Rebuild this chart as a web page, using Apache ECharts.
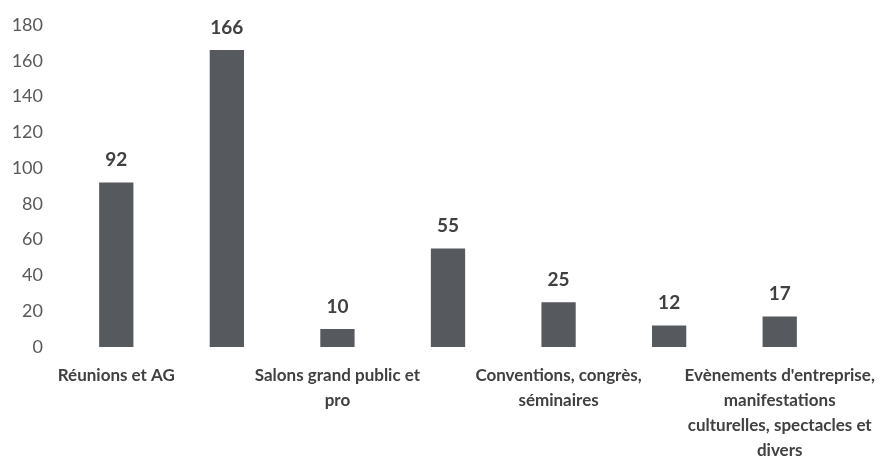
<!DOCTYPE html>
<html>
<head>
<meta charset="utf-8">
<script src="https://cdn.jsdelivr.net/npm/echarts@6/dist/echarts.min.js"></script>
<style>
  html, body { margin: 0; padding: 0; background: #fff; }
  #chart { width: 887px; height: 459px; }
</style>
</head>
<body>
<div id="chart"></div>
<script>
// categories (every other label is hidden in the original, names unknown)
var categories = [
  "Réunions et AG",
  "",
  "Salons grand public et\npro",
  "",
  "Conventions, congrès,\nséminaires",
  "",
  "Evènements d'entreprise,\nmanifestations\nculturelles, spectacles et\ndivers"
];
var values = [92, 166, 10, 55, 25, 12, 17];
var yTicks = { min: 0, max: 180, interval: 20 };

var chart = echarts.init(document.getElementById("chart"));
chart.setOption({
  animation: false,
  grid: { left: 61, right: 52, top: 25, bottom: 112, outerBoundsMode: "none" },
  xAxis: {
    type: "category",
    data: categories,
    axisLine: { show: false },
    axisTick: { show: false },
    axisLabel: {
      interval: 0,
      margin: 16,
      fontFamily: "Lato",
      fontWeight: "bold",
      fontSize: 17,
      lineHeight: 25,
      color: "#404040",
    },
  },
  yAxis: {
    type: "value",
    min: yTicks.min,
    max: yTicks.max,
    interval: yTicks.interval,
    splitLine: { show: false },
    axisLine: { show: false },
    axisTick: { show: false },
    axisLabel: {
      margin: 18,
      fontFamily: "Lato",
      fontSize: 18,
      color: "#595959",
    },
  },
  series: [
    {
      type: "bar",
      data: values,
      barWidth: "31%",
      itemStyle: { color: "#56595d" },
      label: {
        show: true,
        position: "top",
        distance: 13,
        fontFamily: "Lato",
        fontWeight: "bold",
        fontSize: 19,
        color: "#404040",
      },
    },
  ],
});
</script>
</body>
</html>
